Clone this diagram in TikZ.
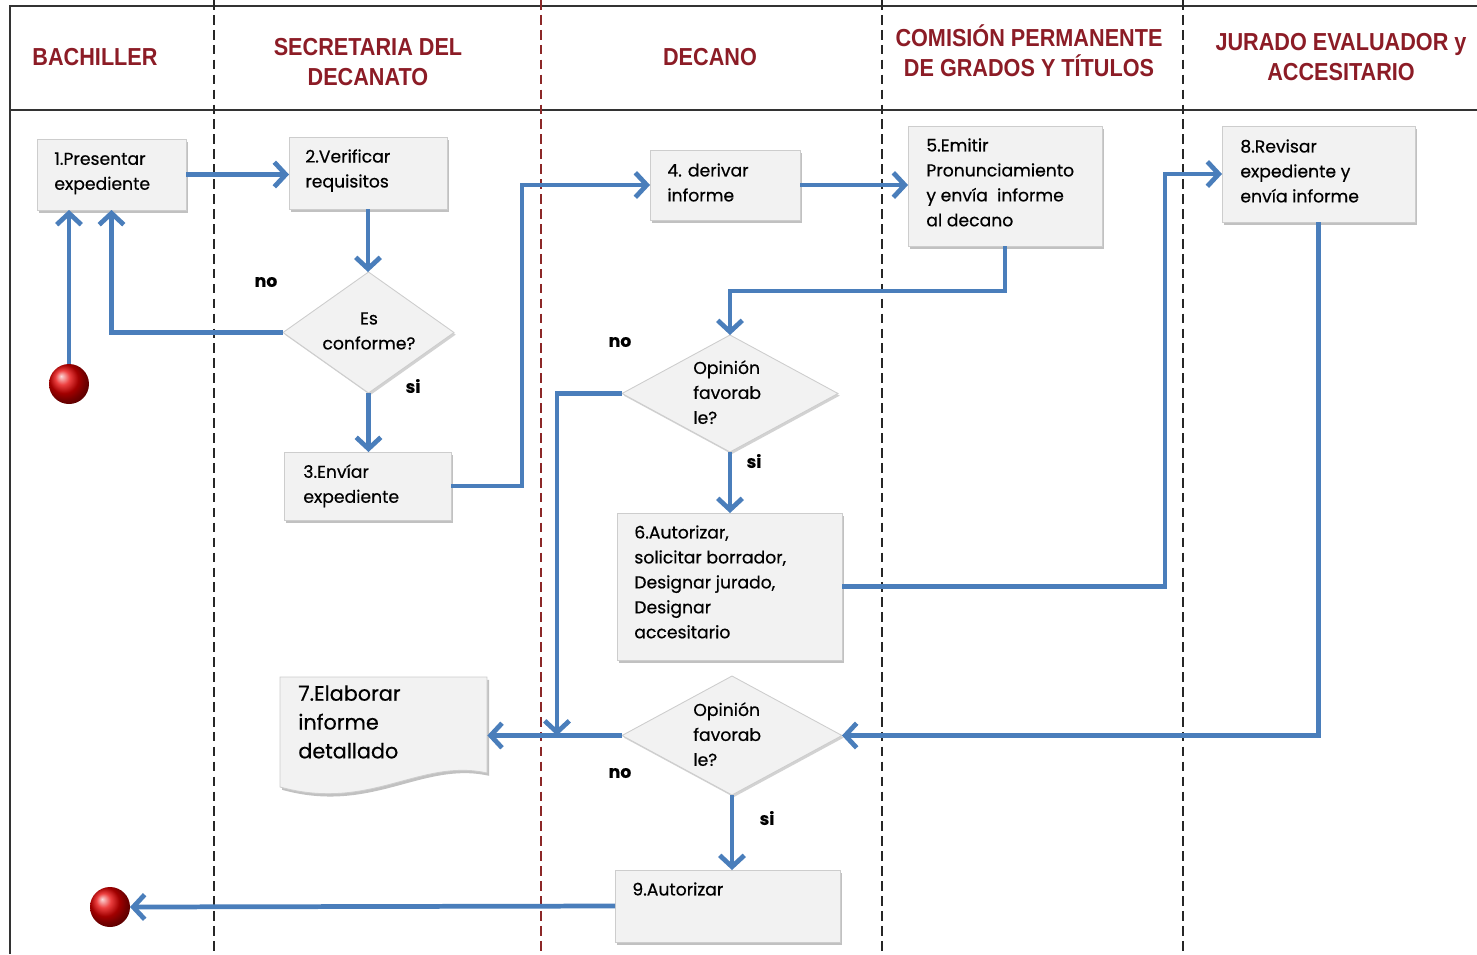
\documentclass[tikz,border=0pt]{standalone}
\usepackage{fontspec}
\setmainfont{Poppins}[FakeBold=0.5]
\newfontfamily\hdrfont{Liberation Sans}[FakeStretch=0.88]
\usetikzlibrary{arrows.meta,shapes.geometric,fit,shadows,calc}

\definecolor{flowblue}{RGB}{74,126,187}
\definecolor{hdrred}{RGB}{140,28,38}
\definecolor{boxfill}{RGB}{242,242,242}
\definecolor{boxline}{RGB}{205,205,205}
\definecolor{lanered}{RGB}{140,40,40}

\newcommand{\stepfont}{\fontsize{9.8}{14.2}\selectfont}

\tikzset{
  box/.style={draw=boxline, fill=boxfill, line width=0.5pt, inner sep=0pt, outer sep=0pt,
    drop shadow={shadow xshift=1.2pt, shadow yshift=-1.6pt, opacity=0.35, fill=black!70}},
  dia/.style={diamond, draw=boxline, fill=boxfill, line width=0.5pt, inner sep=0pt, outer sep=0pt,
    drop shadow={shadow xshift=1.0pt, shadow yshift=-1.2pt, opacity=0.25, fill=black!70}},
  txt/.style={anchor=north west, inner sep=0pt, align=left, font=\stepfont},
  lbl/.style={inner sep=0pt, font=\stepfont\bfseries},
  hdr/.style={inner sep=0pt, align=center, text=hdrred, font=\hdrfont\bfseries\fontsize{14}{17}\selectfont},
  flow/.style={draw=flowblue, line width=2.7pt, -{Straight Barb[length=6.5pt,width=14pt]}},
  lane/.style={line width=0.7pt, dash pattern=on 5.5pt off 3pt},
  ball/.style={circle, minimum size=0.8cm, inner sep=0pt, outer sep=0pt, shading=ball, ball color=red!90!black},
}

\begin{document}
\begin{tikzpicture}[x=0.02cm, y=-0.02cm]
\useasboundingbox (0,0) rectangle (1477,954);

% lane frame
\draw[line width=1.2pt, black!80] (1477,6) -- (10,6) -- (10,954);
\draw[line width=1.2pt, black!80] (10,110) -- (1477,110);
\draw[lane, black!85] (214,0) -- (214,954);
\draw[lane, lanered] (541,0) -- (541,954);
\draw[lane, black!85] (882,0) -- (882,954);
\draw[lane, black!85] (1183,0) -- (1183,954);

% lane titles
\node[hdr] (h1) at (95,57) {BACHILLER};
\node[hdr] (h2) at (368,62) {SECRETARIA DEL\\DECANATO};
\node[hdr] (h3) at (710,57) {DECANO};
\node[hdr] (h4) at (1029,51) {COMISIÓN PERMANENTE\\DE GRADOS Y TÍTULOS};
\node[hdr] (h5) at (1341,57) {JURADO EVALUADOR y\\ACCESITARIO};

% process steps
\node[box, fit={(37,139)(186,210)}] (b1) {};
\node[txt] (t1) at (54,152) {1.Presentar\\expediente};
\node[box, fit={(289,137)(447,209)}] (b2) {};
\node[txt] (t2) at (305,149) {2.Verificar\\requisitos};
\node[box, fit={(284,452)(451,520)}] (b3) {};
\node[txt] (t3) at (303,464) {3.Envíar\\expediente};
\node[box, fit={(650,150)(800,220)}] (b4) {};
\node[txt] (t4) at (667,163) {4. derivar\\informe};
\node[box, fit={(908,126)(1102,246)}] (b5) {};
\node[txt] (t5) at (926,138) {5.Emitir\\Pronunciamiento\\y envía\ \ informe\\al decano};
\node[box, fit={(1222,126)(1415,222)}] (b8) {};
\node[txt] (t8) at (1240,139) {8.Revisar\\expediente y\\envía informe};
\node[box, fit={(617,513)(842,660)}] (b6) {};
\node[txt] (t6) at (634,525) {6.Autorizar,\\solicitar borrador,\\Designar jurado,\\Designar\\accesitario};
\node[box, fit={(615,870)(840,942)}] (b9) {};
\node[txt] (t9) at (632,882) {9.Autorizar};

% detailed report (document shape)
\coordinate (b7a) at (280,677);
\coordinate (b7b) at (487,677);
\draw[draw=boxline, fill=boxfill, line width=0.5pt,
  drop shadow={shadow xshift=1.2pt, shadow yshift=-1.6pt, opacity=0.35, fill=black!70}]
  (b7a) -- (b7b) -- (487,773) .. controls (420,758) and (370,812) .. (280,787) -- cycle;
\node[inner sep=0pt, fit={(280,677)(487,795)}] (b7) {};
\node[txt, font=\fontsize{11.8}{16.4}\selectfont] (t7) at (298,685) {7.Elaborar\\informe\\detallado};

% decisions
\node[dia, minimum width=3.42cm, minimum height=2.42cm] (d0) at (368.5,332.5) {};
\node[inner sep=0pt, align=center, font=\stepfont] (td0) at (369,331) {Es\\conforme?};
\node[dia, minimum width=4.32cm, minimum height=2.34cm] (d1) at (730,393.5) {};
\node[txt] (td1) at (693,360) {Opinión\\favorab\\le?};
\node[dia, minimum width=4.4cm, minimum height=2.38cm] (d2) at (732,735.5) {};
\node[txt] (td2) at (693,702) {Opinión\\favorab\\le?};

% start and end
\node[ball] (start) at (69,384) {};
\node[ball] (end) at (110,907) {};

% branch labels
\node[lbl] (n1) at (266,282) {no};
\node[lbl] (s1) at (413,386) {si};
\node[lbl] (n2) at (620,342) {no};
\node[lbl] (s2) at (754,461) {si};
\node[lbl] (n3) at (620,773) {no};
\node[lbl] (s3) at (767,818) {si};

% connectors
\coordinate (join) at (557,735.5);
\draw[flow] (start.north) -- (start.north |- b1.south);
\draw[flow] (b1.east) -- (b1.east -| b2.west);
\draw[flow] (b2.south) -- (b2.south |- d0.north);
\draw[flow] (d0.west) -| (b1.south);
\draw[flow] (d0.south) -- (d0.south |- b3.north);
\draw[flow] (b3.east) -- ++(71,0) |- (b4.west);
\draw[flow] (b4.east) -- (b4.east -| b5.west);
\draw[flow] (b5.south) -- ++(0,45) -| (d1.north);
\draw[flow] (d1.west) -| (join);
\draw[flow] (d1.south) -- (d1.south |- b6.north);
\draw[flow] (b6.east) -- ++(323,0) |- (b8.west);
\draw[flow] (b8.south) |- (d2.east);
\draw[flow] (d2.west) -- (d2.west -| b7.east);
\draw[flow] (d2.south) -- (d2.south |- b9.north);
\draw[flow] (b9.west) -- (end.east);
\end{tikzpicture}
\end{document}
